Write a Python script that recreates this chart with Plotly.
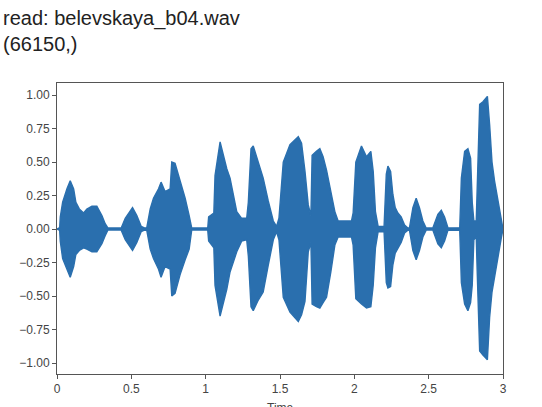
import plotly.graph_objects as go

# Envelope of the waveform (time in s, upper / lower amplitude)
env_time = [
    0.000, 0.018, 0.022, 0.038, 0.067, 0.089, 0.112, 0.127, 0.150, 0.179,
    0.201, 0.235, 0.268, 0.302, 0.324, 0.342, 0.432, 0.459, 0.508, 0.537,
    0.566, 0.588, 0.604, 0.627, 0.649, 0.683, 0.700, 0.727, 0.761, 0.772,
    0.794, 0.828, 0.862, 0.889, 0.906, 1.014, 1.020, 1.055, 1.063, 1.097,
    1.119, 1.142, 1.164, 1.186, 1.209, 1.242, 1.276, 1.287, 1.305, 1.320,
    1.354, 1.387, 1.421, 1.455, 1.477, 1.493, 1.522, 1.567, 1.623, 1.645,
    1.668, 1.690, 1.708, 1.716, 1.745, 1.768, 1.790, 1.813, 1.842, 1.869,
    1.891, 1.981, 1.992, 2.010, 2.048, 2.082, 2.111, 2.127, 2.142, 2.160,
    2.200, 2.215, 2.226, 2.244, 2.259, 2.275, 2.293, 2.315, 2.338, 2.360,
    2.371, 2.394, 2.416, 2.438, 2.461, 2.483, 2.528, 2.562, 2.585, 2.607,
    2.630, 2.709, 2.720, 2.742, 2.764, 2.782, 2.793, 2.804, 2.820, 2.826,
    2.843, 2.865, 2.895, 2.910, 2.926, 2.943, 2.965, 2.988, 3.000,
]
env_upper = [
    0.0, 0.01, 0.09, 0.20, 0.30, 0.36, 0.30, 0.20, 0.15, 0.12,
    0.15, 0.17, 0.17, 0.10, 0.04, 0.008, 0.008, 0.08, 0.16, 0.10,
    0.02, 0.008, 0.01, 0.15, 0.23, 0.30, 0.35, 0.28, 0.30, 0.50,
    0.49, 0.36, 0.23, 0.10, 0.008, 0.008, 0.09, 0.12, 0.40, 0.65,
    0.54, 0.45, 0.38, 0.26, 0.13, 0.08, 0.08, 0.20, 0.60, 0.62,
    0.50, 0.38, 0.21, 0.06, 0.02, 0.08, 0.50, 0.63, 0.69, 0.64,
    0.43, 0.18, 0.10, 0.55, 0.58, 0.60, 0.54, 0.44, 0.28, 0.13,
    0.06, 0.06, 0.12, 0.50, 0.62, 0.54, 0.58, 0.43, 0.13, 0.02,
    0.02, 0.41, 0.47, 0.43, 0.26, 0.16, 0.12, 0.09, 0.03, 0.008,
    0.01, 0.16, 0.23, 0.16, 0.06, 0.008, 0.008, 0.11, 0.14, 0.09,
    0.008, 0.01, 0.38, 0.58, 0.60, 0.53, 0.20, 0.06, 0.06, 0.30,
    0.93, 0.95, 0.99, 0.78, 0.50, 0.36, 0.21, 0.06, 0.0,
]
env_lower = [
    0.0, -0.01, -0.09, -0.22, -0.30, -0.36, -0.28, -0.19, -0.16, -0.14,
    -0.15, -0.17, -0.17, -0.11, -0.05, -0.008, -0.008, -0.08, -0.16, -0.10,
    -0.02, -0.008, -0.01, -0.15, -0.22, -0.30, -0.36, -0.28, -0.30, -0.50,
    -0.48, -0.34, -0.23, -0.15, -0.008, -0.008, -0.09, -0.14, -0.42, -0.65,
    -0.55, -0.45, -0.32, -0.25, -0.17, -0.09, -0.08, -0.20, -0.58, -0.61,
    -0.53, -0.47, -0.27, -0.08, -0.02, -0.08, -0.51, -0.62, -0.69, -0.64,
    -0.54, -0.17, -0.10, -0.56, -0.58, -0.59, -0.55, -0.51, -0.32, -0.12,
    -0.06, -0.06, -0.12, -0.52, -0.56, -0.59, -0.58, -0.42, -0.14, -0.02,
    -0.02, -0.40, -0.44, -0.43, -0.27, -0.18, -0.14, -0.10, -0.03, -0.008,
    -0.01, -0.16, -0.23, -0.16, -0.06, -0.008, -0.008, -0.11, -0.14, -0.09,
    -0.008, -0.01, -0.40, -0.56, -0.61, -0.55, -0.42, -0.08, -0.06, -0.30,
    -0.91, -0.94, -0.975, -0.66, -0.47, -0.37, -0.22, -0.07, 0.0,
]
assert len(env_time) == len(env_upper) == len(env_lower)

x_ticks = [0, 0.5, 1, 1.5, 2, 2.5, 3]
x_tick_labels = ["0", "0.5", "1", "1.5", "2", "2.5", "3"]
y_ticks = [-1.0, -0.75, -0.5, -0.25, 0.0, 0.25, 0.5, 0.75, 1.0]
y_tick_labels = ["\u22121.00", "\u22120.75", "\u22120.50", "\u22120.25", "0.00", "0.25", "0.50", "0.75", "1.00"]

header_lines = ["read: belevskaya_b04.wav", "(66150,)"]

color = "#2a6fae"

fig = go.Figure()
fig.add_trace(go.Scatter(
    x=env_time + env_time[::-1],
    y=env_upper + env_lower[::-1],
    fill="toself", fillcolor=color,
    line=dict(color=color, width=1.4),
    mode="lines", hoverinfo="skip", showlegend=False,
))

W, H = 542, 407
ml, mr, mt, mb = 57, 39, 83, 33
pw = W - ml - mr
ph = H - mt - mb

tick_font = dict(family="Liberation Sans", size=12, color="#444")
axis_common = dict(
    showgrid=False, zeroline=False, showline=True, mirror=True,
    linecolor="#555", linewidth=1, ticks="outside", ticklen=4,
    tickcolor="#555", tickfont=tick_font,
)
fig.update_xaxes(range=[0, 3], tickmode="array", tickvals=x_ticks, ticktext=x_tick_labels, **axis_common)
fig.update_yaxes(range=[-1.082, 1.09], tickmode="array", tickvals=y_ticks, ticktext=y_tick_labels, **axis_common)

header_font = dict(family="Liberation Sans", size=20, color="#222")
annotations = [
    dict(text=header_lines[0], xref="paper", yref="paper", x=(1 - ml) / pw, y=1 + (mt - 19) / ph,
         xanchor="left", yanchor="middle", showarrow=False, font=header_font),
    dict(text=header_lines[1], xref="paper", yref="paper", x=(1 - ml) / pw, y=1 + (mt - 44) / ph,
         xanchor="left", yanchor="middle", showarrow=False, font=header_font),
    dict(text="Time", xref="paper", yref="paper", x=0.5, y=0, yshift=-25,
         xanchor="center", yanchor="top", showarrow=False, font=tick_font),
]

fig.update_layout(
    width=W, height=H, autosize=False,
    margin=dict(l=ml, r=mr, t=mt, b=mb),
    paper_bgcolor="white", plot_bgcolor="white",
    annotations=annotations,
    showlegend=False,
)

fig.write_html("out.html", config={"displayModeBar": False},
               post_script="document.body.style.margin='0';")
